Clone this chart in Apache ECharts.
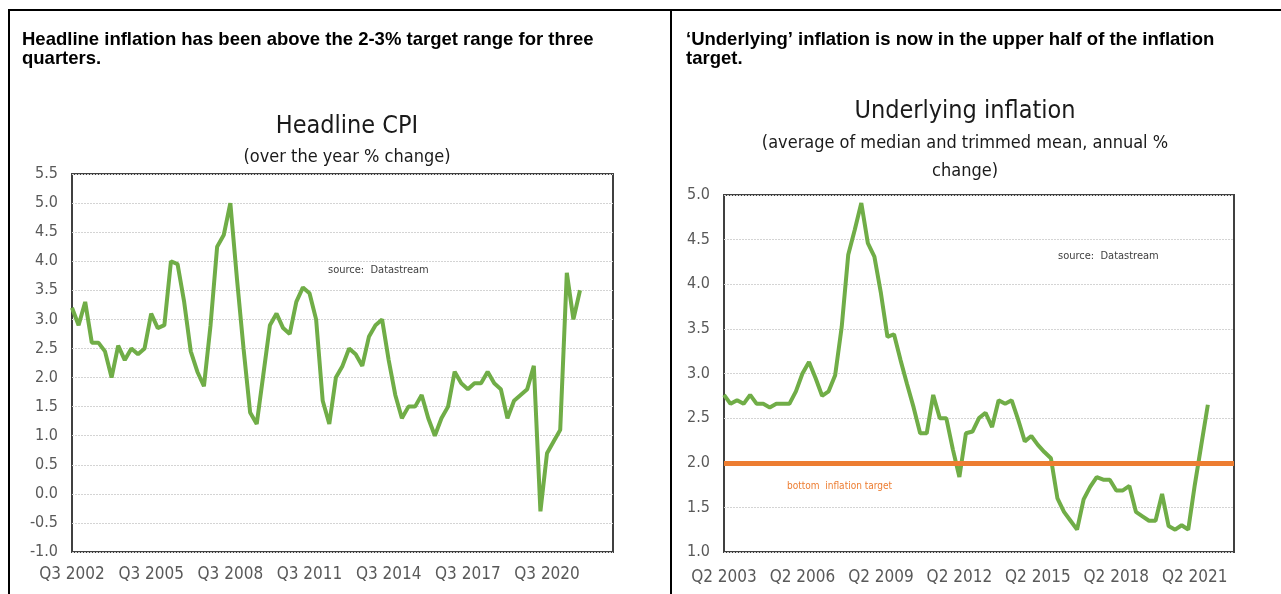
<!DOCTYPE html>
<html>
<head>
<meta charset="utf-8">
<script src="https://cdn.jsdelivr.net/npm/echarts@6/dist/echarts.min.js"></script>
<style>
  html, body { margin: 0; padding: 0; background: #fff; }
  #main { width: 1281px; height: 594px; }
</style>
</head>
<body>
<div id="main"></div>
<script>
// headline CPI, over the year % change, Q3 2002 .. Q4 2021
const headlineCpi = [
  3.2, 2.9, 3.3, 2.6, 2.6, 2.45, 2.0, 2.55, 2.3, 2.5,
  2.4, 2.5, 3.1, 2.85, 2.9, 4.0, 3.95, 3.3, 2.45, 2.1,
  1.85, 2.9, 4.25, 4.45, 5.0, 3.7, 2.5, 1.4, 1.2, 2.05,
  2.9, 3.1, 2.85, 2.75, 3.3, 3.55, 3.45, 3.0, 1.6, 1.2,
  2.0, 2.2, 2.5, 2.4, 2.2, 2.7, 2.9, 3.0, 2.3, 1.7,
  1.3, 1.5, 1.5, 1.7, 1.3, 1.0, 1.3, 1.5, 2.1, 1.9,
  1.8, 1.9, 1.9, 2.1, 1.9, 1.8, 1.3, 1.6, 1.7, 1.8,
  2.2, -0.3, 0.7, 0.9, 1.1, 3.8, 3.0, 3.5
];
// underlying inflation, Q2 2003 .. Q4 2021
const underlying = [
  2.76, 2.66, 2.7, 2.66, 2.76, 2.66, 2.66, 2.62, 2.66, 2.66,
  2.66, 2.8, 3.0, 3.13, 2.95, 2.75, 2.8, 2.98, 3.52, 4.33,
  4.61, 4.91, 4.46, 4.31, 3.9, 3.41, 3.44, 3.15, 2.88, 2.62,
  2.33, 2.33, 2.76, 2.5, 2.5, 2.15, 1.84, 2.33, 2.35, 2.5,
  2.56, 2.4, 2.7, 2.66, 2.7, 2.48, 2.24, 2.3, 2.2, 2.12,
  2.05, 1.6, 1.45, 1.35, 1.25, 1.59, 1.73, 1.84, 1.81, 1.81,
  1.69, 1.69, 1.74, 1.45, 1.4, 1.35, 1.35, 1.65, 1.29, 1.25,
  1.3, 1.25, 1.75, 2.2, 2.65
];
const targetBottom = 2.0;

// quarter labels, axis runs a bit past the last data point
function quarters(q, year, count) {
  const out = [];
  for (let i = 0; i < count; i++) {
    out.push('Q' + q + ' ' + year);
    q++;
    if (q > 4) { q = 1; year++; }
  }
  return out;
}
const leftCategories = quarters(3, 2002, 83);
const rightCategories = quarters(2, 2003, 79);

const narrow = "'Liberation Sans Narrow', 'DejaVu Sans Condensed', 'Liberation Sans', sans-serif";
const sans = "'Liberation Sans', Arial, sans-serif";
const green = '#70ad47';
const orange = '#ed7d31';

const chart = echarts.init(document.getElementById('main'));

function yAxis(idx, min, max) {
  return {
    type: 'value', gridIndex: idx, min: min, max: max, interval: 0.5,
    axisLine: { show: false }, axisTick: { show: false },
    axisLabel: {
      color: '#595959', fontFamily: narrow, fontSize: 16, margin: 14,
      formatter: v => v.toFixed(1)
    },
    splitLine: { lineStyle: { color: '#d4d4d4', type: [2, 1], width: 1 } }
  };
}
function xAxis(idx, cats, margin) {
  return {
    type: 'category', gridIndex: idx, data: cats, boundaryGap: false,
    axisLine: { show: false }, axisTick: { show: false },
    axisLabel: {
      // every third year, none in the empty tail
      interval: i => i % 12 === 0 && i <= 72,
      color: '#595959', fontFamily: narrow, fontSize: 17, margin: margin
    },
    splitLine: { show: false }
  };
}

const options = {
  animation: false,
  backgroundColor: '#fff',
  title: [
    { text: 'Headline CPI', left: 342, top: 109, textAlign: 'center',
      textStyle: { fontFamily: narrow, fontSize: 25, fontWeight: 'normal', color: '#1a1a1a' } },
    { text: '(over the year % change)', left: 342, top: 143, textAlign: 'center',
      textStyle: { fontFamily: narrow, fontSize: 18, fontWeight: 'normal', color: '#1a1a1a' } },
    { text: 'Underlying inflation', left: 960, top: 94, textAlign: 'center',
      textStyle: { fontFamily: narrow, fontSize: 25, fontWeight: 'normal', color: '#1a1a1a' } },
    { text: '(average of median and trimmed mean, annual %\nchange)', left: 960, top: 124, textAlign: 'center',
      textStyle: { fontFamily: narrow, fontSize: 18, fontWeight: 'normal', color: '#1a1a1a', lineHeight: 28 } }
  ],
  grid: [
    { left: 72, top: 174, width: 541, height: 378, show: true, borderColor: '#404040', borderWidth: 2 },
    { left: 724, top: 195, width: 510, height: 357, show: true, borderColor: '#404040', borderWidth: 2 }
  ],
  xAxis: [xAxis(0, leftCategories, 14), xAxis(1, rightCategories, 17)],
  yAxis: [yAxis(0, -1, 5.5), yAxis(1, 1, 5)],
  series: [
    {
      name: 'Headline CPI', type: 'line', xAxisIndex: 0, yAxisIndex: 0,
      data: headlineCpi, symbol: 'none',
      lineStyle: { color: green, width: 4 }
    },
    {
      name: 'Underlying inflation', type: 'line', xAxisIndex: 1, yAxisIndex: 1,
      data: underlying, symbol: 'none', z: 3,
      lineStyle: { color: green, width: 4 },
      markLine: {
        silent: true, symbol: 'none', label: { show: false },
        lineStyle: { color: orange, width: 5, type: 'solid' },
        data: [{ yAxis: targetBottom }]
      }
    }
  ],
  graphic: [
    // panel frame
    { type: 'line', shape: { x1: 8, y1: 10, x2: 1281, y2: 10 }, style: { stroke: '#000', lineWidth: 2 } },
    { type: 'line', shape: { x1: 9, y1: 10, x2: 9, y2: 594 }, style: { stroke: '#000', lineWidth: 2 } },
    { type: 'line', shape: { x1: 671, y1: 10, x2: 671, y2: 594 }, style: { stroke: '#000', lineWidth: 2 } },
    // panel headings
    { type: 'text', left: 22, top: 30, style: {
        text: 'Headline inflation has been above the 2-3% target range for three\nquarters.',
        font: 'bold 18.5px ' + sans, fill: '#000', lineHeight: 19 } },
    { type: 'text', left: 686, top: 30, style: {
        text: '\u2018Underlying\u2019 inflation is now in the upper half of the inflation\ntarget.',
        font: 'bold 18.5px ' + sans, fill: '#000', lineHeight: 19 } },
    // notes inside the plots
    { type: 'text', left: 328, top: 265, style: {
        text: 'source:  Datastream', font: '11px ' + narrow, fill: '#404040' } },
    { type: 'text', left: 1058, top: 251, style: {
        text: 'source:  Datastream', font: '11px ' + narrow, fill: '#404040' } },
    { type: 'text', left: 787, top: 481, style: {
        text: 'bottom  inflation target', font: '10px ' + narrow, fill: orange } }
  ]
};

chart.setOption(options);
</script>
</body>
</html>
